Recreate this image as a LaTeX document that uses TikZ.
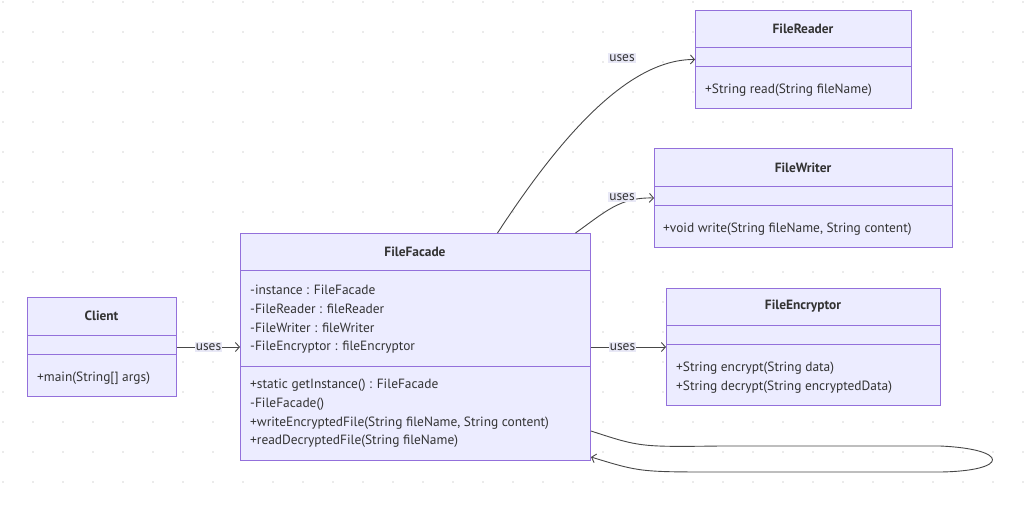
\documentclass[tikz,border=0pt]{standalone}
\usepackage{fontspec}
\setmainfont{PT Sans}
\usetikzlibrary{arrows.meta}
\definecolor{umlfill}{HTML}{ECECFF}
\definecolor{umlline}{HTML}{9370DB}
\definecolor{inkcol}{HTML}{333333}
\definecolor{dotcol}{HTML}{E4E4E4}
\definecolor{tagfill}{HTML}{E8E8F6}
\tikzset{
  cls/.style={draw=umlline, fill=umlfill, line width=1pt, anchor=north west, inner sep=0pt},
  title/.style={font=\fontsize{13.4}{15}\selectfont\bfseries, text=inkcol, yshift=-1pt},
  member/.style={font=\fontsize{13.4}{15}\selectfont, text=inkcol, anchor=west, inner sep=0pt, yshift=-1pt},
  link/.style={draw=inkcol!90, line width=0.9pt, -{Straight Barb[length=4pt,width=9pt]}},
  tag/.style={fill=tagfill, font=\fontsize{13.4}{15}\selectfont, text=inkcol, inner sep=1pt},
}
\newcommand{\divider}[2]{\draw[umlline, line width=1pt] ([yshift=-#2pt]#1.north west) -- ([yshift=-#2pt]#1.north east);}
\begin{document}
\begin{tikzpicture}[x=1pt,y=-1pt]
  \useasboundingbox (0,0) rectangle (1035,504);
  \foreach \x in {3,33,...,1023}
    \foreach \y in {2,32,...,482}
      \fill[dotcol] (\x,\y) circle (1.2pt);

  \node[cls, minimum width=216pt, minimum height=98pt] (reader) at (695,10) {};
  \divider{reader}{37}
  \divider{reader}{56}
  \node[title] (reader-t) at (803,28) {FileReader};
  \node[member] (reader-m1) at (705,89) {+String read(String fileName)};

  \node[cls, minimum width=298pt, minimum height=99pt] (writer) at (654,148) {};
  \divider{writer}{38}
  \divider{writer}{57}
  \node[title] (writer-t) at (803,167) {FileWriter};
  \node[member] (writer-m1) at (663,228) {+void write(String fileName, String content)};

  \node[cls, minimum width=274pt, minimum height=117pt] (encryptor) at (666,288) {};
  \divider{encryptor}{37}
  \divider{encryptor}{56}
  \node[title] (encryptor-t) at (803,305) {FileEncryptor};
  \node[member] (encryptor-m1) at (676,367) {+String encrypt(String data)};
  \node[member] (encryptor-m2) at (676,386) {+String decrypt(String encryptedData)};

  \node[cls, minimum width=350pt, minimum height=227pt] (facade) at (240,233) {};
  \divider{facade}{37}
  \divider{facade}{133}
  \node[title] (facade-t) at (415,251) {FileFacade};
  \node[member] (facade-a1) at (250,289) {-instance : FileFacade};
  \node[member] (facade-a2) at (250,308) {-FileReader : fileReader};
  \node[member] (facade-a3) at (250,327) {-FileWriter : fileWriter};
  \node[member] (facade-a4) at (250,346) {-FileEncryptor : fileEncryptor};
  \node[member] (facade-m1) at (250,384) {+static getInstance() : FileFacade};
  \node[member] (facade-m2) at (250,403) {-FileFacade()};
  \node[member] (facade-m3) at (250,422) {+writeEncryptedFile(String fileName, String content)};
  \node[member] (facade-m4) at (250,440) {+readDecryptedFile(String fileName)};

  \node[cls, minimum width=149pt, minimum height=99pt] (client) at (27,297) {};
  \divider{client}{38}
  \divider{client}{57}
  \node[title] (client-t) at (101.5,315) {Client};
  \node[member] (client-m1) at (37,377) {+main(String[] args)};

  \begin{scope}[link]
    \draw (client.east) -- node[tag] {uses} (facade.west);
    \draw (facade.east) -- node[tag, pos=0.42] {uses} (encryptor.west);
    \draw ([xshift=82pt]facade.north) .. controls (555,145) and (625,59) .. (reader.west);
    \draw ([xshift=160pt]facade.north) .. controls (605,212) and (620,197) .. (writer.west);
    \draw ([yshift=30pt]facade.south east) .. controls (640,447) .. (720,446) -- (940,446)
      .. controls (1010,449) and (1010,471) .. (940,472) -- (720,472)
      .. controls (640,472) .. ([yshift=4pt]facade.south east);
  \end{scope}
  \node[tag] (reader-tag) at (622,58) {uses};
  \node[tag] (writer-tag) at (622,197) {uses};
\end{tikzpicture}
\end{document}
